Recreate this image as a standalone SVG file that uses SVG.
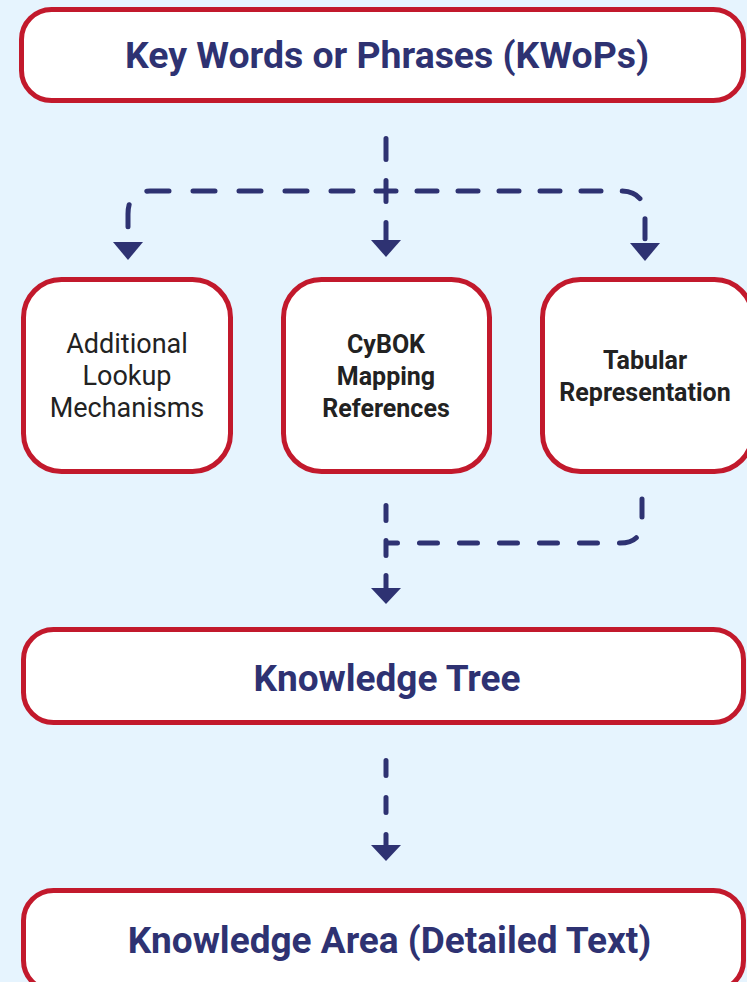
<svg xmlns="http://www.w3.org/2000/svg" width="747" height="982" viewBox="0 0 747 982">
<style>
.box{fill:#fff;stroke:#C2192C;stroke-width:5}
.big{font-family:Roboto,"Liberation Sans",sans-serif;font-weight:700;font-size:37px;fill:#2E3272;text-anchor:middle}
.sm{font-family:Roboto,"Liberation Sans",sans-serif;font-size:25px;fill:#222;text-anchor:middle}
.reg{font-size:27px}
.smb{font-weight:700}
.ln{fill:none;stroke:#2E3272;stroke-width:5;stroke-linecap:round}
.hd{fill:#2E3272}
</style>
<rect width="747" height="982" fill="#E6F4FE"/>
<g id="kwops"><rect class="box" x="21.5" y="9.5" width="722" height="91" rx="30"/><text class="big" x="387" y="68" style="font-size:37.4px">Key Words or Phrases (KWoPs)</text></g>
<g id="additional"><rect class="box" x="23.5" y="279.5" width="207" height="192" rx="38"/><text class="sm reg" x="127" y="353">Additional</text><text class="sm reg" x="127" y="385">Lookup</text><text class="sm reg" x="127" y="417">Mechanisms</text></g>
<g id="cybok"><rect class="box" x="283.5" y="279.5" width="206" height="192" rx="38"/><text class="sm smb" x="386" y="353">CyBOK</text><text class="sm smb" x="386" y="385">Mapping</text><text class="sm smb" x="386" y="417">References</text></g>
<g id="tabular"><rect class="box" x="542.5" y="279.5" width="210" height="192" rx="38"/><text class="sm smb" x="645" y="369">Tabular</text><text class="sm smb" x="645" y="401">Representation</text></g>
<g id="tree"><rect class="box" x="23.5" y="629.5" width="720" height="93" rx="30"/><text class="big" x="387" y="691">Knowledge Tree</text></g>
<g id="area"><rect class="box" x="23.5" y="890.5" width="720" height="100" rx="30"/><text class="big" x="389.5" y="953">Knowledge Area (Detailed Text)</text></g>
<g id="connectors">
<path class="ln" d="M386,138.5 V240" stroke-dasharray="21 21"/>
<polygon class="hd" points="371,240 401,240 386,257"/>
<path class="ln" d="M353,191 H150 Q128,191 128,214 V242" stroke-dasharray="22 24"/>
<polygon class="hd" points="113,242 143,242 128,260"/>
<path class="ln" d="M376,191 H620 Q645,191 645,216 V243" stroke-dasharray="20 21"/>
<polygon class="hd" points="630,243 660,243 645,261"/>
<path class="ln" d="M642,499 V521 Q642,543 620,543 H388" stroke-dasharray="18 22"/>
<path class="ln" d="M386,505.5 V588" stroke-dasharray="15 20"/>
<polygon class="hd" points="371,588 401,588 386,604"/>
<path class="ln" d="M386,760.5 V845" stroke-dasharray="15 22"/>
<polygon class="hd" points="371,845 401,845 386,861"/>
</g>
</svg>
